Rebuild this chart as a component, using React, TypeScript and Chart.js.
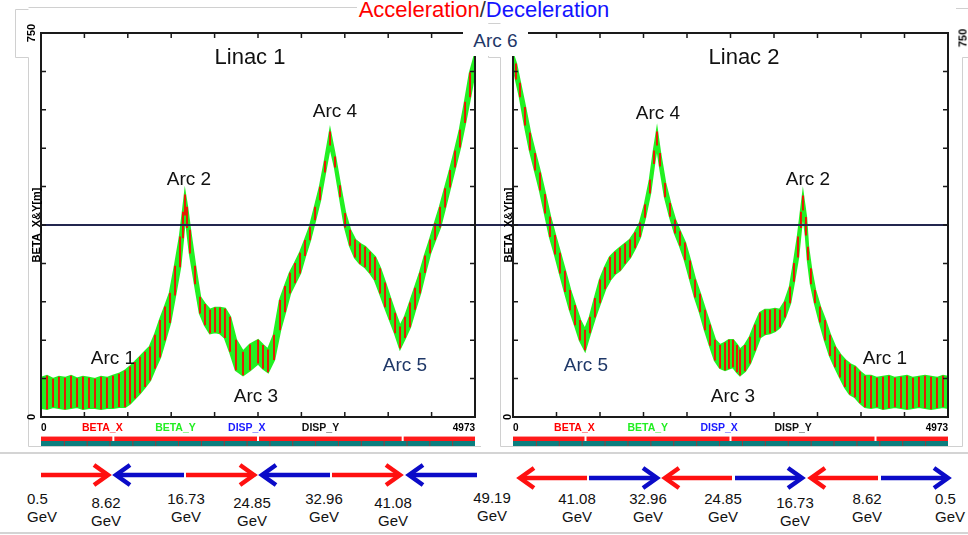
import React, { useEffect, useRef } from 'react';
import { Chart, registerables } from 'chart.js';

Chart.register(...registerables);

const FONT = '"Liberation Sans", Arial, Helvetica, sans-serif';

// ---------------- data ----------------
const X_MAX = 4973;
const Y_MAX = 750;
const X_TICK_COUNT = 10;
const Y_TICK_STEP = 75;
const REF_LEVEL = [375];
const Y_TITLE = 'BETA_X&Y[m]';
const LEGEND_ITEMS = ['BETA_X', 'BETA_Y', 'DISP_X', 'DISP_Y'];

// Linac 1 pass: position s and upper / lower envelope of the beta oscillation
const L1_S = [0, 69, 138, 206, 275, 344, 413, 481, 550, 619, 688, 756, 825, 894, 963, 1020, 1077, 1134, 1192, 1249, 1306, 1364, 1421, 1478, 1536, 1593, 1627, 1650, 1673, 1707, 1765, 1822, 1879, 1937, 1994, 2051, 2108, 2166, 2234, 2315, 2395, 2487, 2544, 2601, 2670, 2739, 2796, 2853, 2911, 2968, 3025, 3082, 3140, 3197, 3254, 3312, 3369, 3426, 3484, 3541, 3598, 3655, 3713, 3770, 3827, 3885, 3942, 3999, 4057, 4114, 4171, 4228, 4286, 4343, 4400, 4458, 4515, 4572, 4630, 4687, 4744, 4801, 4859, 4916, 4973];
const L1_HI = [76, 80, 74, 78, 76, 80, 75, 78, 76, 74, 78, 76, 80, 84, 90, 98, 107, 117, 127, 137, 160, 189, 215, 242, 295, 352, 400, 434, 410, 365, 295, 234, 220, 209, 213, 213, 211, 195, 150, 127, 141, 150, 140, 131, 160, 228, 255, 281, 300, 320, 345, 371, 410, 449, 500, 557, 508, 452, 398, 365, 346, 338, 332, 322, 312, 290, 262, 232, 203, 176, 195, 223, 252, 281, 315, 346, 378, 410, 446, 482, 520, 561, 615, 672, 707];
const L1_LO = [18, 16, 20, 18, 16, 18, 20, 16, 18, 18, 16, 18, 18, 20, 20, 27, 37, 47, 59, 72, 95, 117, 150, 184, 238, 293, 350, 394, 370, 320, 260, 203, 180, 164, 166, 164, 155, 128, 92, 82, 92, 105, 95, 88, 112, 170, 205, 242, 262, 281, 315, 346, 385, 424, 478, 531, 488, 430, 371, 335, 312, 300, 293, 282, 268, 242, 215, 190, 164, 135, 155, 176, 210, 242, 282, 320, 346, 371, 410, 449, 488, 527, 575, 625, 678];

// Linac 2 pass
const L2_S = [0, 34, 80, 137, 194, 252, 309, 366, 423, 480, 537, 594, 652, 709, 766, 823, 880, 937, 995, 1052, 1109, 1166, 1223, 1281, 1338, 1395, 1452, 1509, 1566, 1612, 1646, 1681, 1738, 1795, 1852, 1909, 1966, 2024, 2081, 2138, 2195, 2252, 2309, 2367, 2424, 2469, 2515, 2561, 2595, 2652, 2709, 2766, 2824, 2881, 2938, 2995, 3052, 3109, 3167, 3212, 3258, 3292, 3315, 3349, 3372, 3406, 3452, 3509, 3567, 3624, 3681, 3738, 3795, 3852, 3910, 3967, 4024, 4093, 4161, 4230, 4298, 4367, 4436, 4504, 4573, 4641, 4710, 4779, 4847, 4916, 4973];
const L2_HI = [707, 690, 652, 605, 555, 515, 477, 435, 391, 355, 320, 285, 248, 218, 189, 170, 195, 232, 268, 292, 312, 322, 330, 338, 346, 360, 379, 415, 463, 520, 557, 515, 457, 418, 385, 362, 340, 305, 268, 240, 209, 180, 150, 140, 145, 150, 150, 140, 131, 140, 156, 180, 203, 209, 209, 211, 209, 225, 254, 300, 352, 400, 432, 390, 332, 290, 248, 215, 189, 160, 137, 122, 111, 103, 98, 88, 80, 80, 76, 78, 80, 76, 78, 80, 76, 78, 80, 78, 76, 80, 78];
const L2_LO = [688, 660, 625, 570, 521, 482, 443, 398, 352, 318, 281, 245, 209, 180, 150, 131, 164, 195, 223, 250, 268, 280, 287, 300, 312, 330, 352, 390, 437, 495, 531, 490, 430, 392, 359, 335, 307, 270, 234, 205, 170, 140, 111, 96, 92, 95, 98, 88, 82, 90, 105, 130, 156, 162, 164, 168, 176, 195, 223, 265, 312, 370, 404, 355, 307, 260, 223, 185, 150, 120, 98, 78, 59, 45, 39, 28, 20, 18, 20, 16, 18, 20, 18, 16, 18, 20, 18, 16, 18, 20, 18];

// energies under the panels
const TOP_ROW_E = ['0.5', '8.62', '16.73', '24.85', '32.96', '41.08', '49.19'];
const BOTTOM_ROW_E = ['41.08', '32.96', '24.85', '16.73', '8.62', '0.5'];

// ---------------- styles / layout ----------------
const RED = '#ff0000';
const GREEN = '#22f022';
const NAVY = '#23264f';
const ARC_NAVY = '#1f3868';
const AXIS = '#1a1a1a';
const LEGEND_COLORS = ['#ff0000', '#22ee22', '#1a1aff', '#111111'];
const LEGEND_FRAC = [0.0945, 0.263, 0.431, 0.601];

const X_TICKS = Array.from({ length: X_TICK_COUNT + 1 }, (_, i) => (X_MAX * i) / X_TICK_COUNT);
const Y_TICKS = Array.from({ length: Y_MAX / Y_TICK_STEP + 1 }, (_, i) => i * Y_TICK_STEP);

const decorPlugin = {
  id: 'panelDecor',
  afterDraw(chart: any) {
    const { ctx, chartArea: a, scales } = chart;
    const xs = scales.x;
    const ys = scales.y;
    const w = a.right - a.left;
    ctx.save();
    ctx.strokeStyle = AXIS;
    ctx.lineWidth = 1.5;
    ctx.beginPath();
    xs.ticks.forEach((t: any) => {
      const p = xs.getPixelForValue(t.value);
      ctx.moveTo(p, a.top);
      ctx.lineTo(p, a.top + 5);
      ctx.moveTo(p, a.bottom);
      ctx.lineTo(p, a.bottom - 5);
    });
    ys.ticks.forEach((t: any) => {
      const p = ys.getPixelForValue(t.value);
      ctx.moveTo(a.left, p);
      ctx.lineTo(a.left + 5, p);
      ctx.moveTo(a.right, p);
      ctx.lineTo(a.right - 5, p);
    });
    ctx.stroke();
    ctx.lineWidth = 2;
    ctx.strokeRect(a.left, a.top, w, a.bottom - a.top);
    ctx.save();
    ctx.translate(a.left - 4, (a.top + a.bottom) / 2);
    ctx.rotate(-Math.PI / 2);
    ctx.font = `bold 11px ${FONT}`;
    ctx.fillStyle = '#000';
    ctx.textAlign = 'center';
    ctx.textBaseline = 'middle';
    ctx.fillText(Y_TITLE, 0, 0);
    ctx.restore();
    ctx.font = `bold 10.5px ${FONT}`;
    ctx.textAlign = 'left';
    ctx.textBaseline = 'middle';
    LEGEND_ITEMS.forEach((t, i) => {
      ctx.fillStyle = LEGEND_COLORS[i];
      ctx.fillText(t, a.left + w * LEGEND_FRAC[i], a.bottom + 11);
    });
    const yr = a.bottom + 19;
    ctx.fillStyle = '#ff1a1a';
    ctx.fillRect(a.left, yr, w, 5);
    ctx.fillStyle = '#ff9a9a';
    ctx.fillRect(a.left, yr, w, 1);
    ctx.fillStyle = '#ffffff';
    [1, 3, 5].forEach((k) => ctx.fillRect(a.left + (w * k) / 6 - 1, yr, 2, 5));
    ctx.fillStyle = '#0b7e7e';
    ctx.fillRect(a.left, yr + 5, w, 5);
    ctx.fillStyle = '#8a4040';
    for (let k = 1; k < 19; k++) ctx.fillRect(a.left + (w * k) / 19, yr + 5, 1, 5);
    ctx.restore();
  },
};

function buildConfig(s: number[], hi: number[], lo: number[], yWidth: number, rightPad: number, yTickPad: number): any {
  const upper = s.map((x, i) => ({ x, y: hi[i] }));
  const lower = s.map((x, i) => ({ x, y: lo[i] }));
  const stripes = s.map((x, i) => ({ x, y: [lo[i], hi[i]] }));
  const ref = [
    { x: 0, y: REF_LEVEL[0] },
    { x: X_MAX, y: REF_LEVEL[0] },
  ];
  return {
    type: 'bar',
    data: {
      datasets: [
        { type: 'line', label: 'BETA_Y', data: upper, borderColor: GREEN, backgroundColor: GREEN, borderWidth: 2.5, pointRadius: 0, fill: '+1', order: 3 },
        { type: 'line', label: 'BETA_Y low', data: lower, borderColor: GREEN, backgroundColor: GREEN, borderWidth: 2.5, pointRadius: 0, fill: false, order: 3 },
        { type: 'bar', label: 'BETA_X', data: stripes, backgroundColor: RED, barThickness: 1.1, order: 2 },
        { type: 'line', label: 'ref', data: ref, borderColor: NAVY, borderWidth: 2, pointRadius: 0, fill: false, order: 1 },
      ],
    },
    options: {
      responsive: false,
      animation: false,
      events: [],
      layout: { padding: { left: 0, top: 33, right: rightPad, bottom: 0 } },
      plugins: { legend: { display: false }, tooltip: { enabled: false }, title: { display: false } },
      scales: {
        x: {
          type: 'linear',
          min: 0,
          max: X_MAX,
          offset: false,
          grid: { display: false, drawTicks: false },
          border: { display: false },
          afterBuildTicks: (sc: any) => {
            sc.ticks = X_TICKS.map((v) => ({ value: v }));
          },
          afterFit: (sc: any) => {
            sc.height = 33;
          },
          ticks: {
            autoSkip: false,
            minRotation: 0,
            maxRotation: 0,
            align: 'inner',
            padding: 5,
            color: '#000',
            font: { family: FONT, size: 10, weight: 'bold' },
            callback: (v: number) => (v === 0 || v === X_MAX ? String(v) : ''),
          },
        },
        y: {
          type: 'linear',
          min: 0,
          max: Y_MAX,
          grid: { display: false, drawTicks: false },
          border: { display: false },
          afterBuildTicks: (sc: any) => {
            sc.ticks = Y_TICKS.map((v) => ({ value: v }));
          },
          afterFit: (sc: any) => {
            sc.width = yWidth;
          },
          ticks: {
            autoSkip: false,
            minRotation: 90,
            maxRotation: 90,
            crossAlign: 'center',
            padding: yTickPad,
            color: '#000',
            font: { family: FONT, size: 11, weight: 'bold' },
            callback: (v: number) => (v === 0 || v === Y_MAX ? String(v) : ''),
          },
        },
      },
    },
    plugins: [decorPlugin],
  };
}

function Panel(props: { left: number; s: number[]; hi: number[]; lo: number[]; yWidth: number; rightPad: number; yTickPad: number }) {
  const ref = useRef<HTMLCanvasElement>(null);
  useEffect(() => {
    const chart = new Chart(ref.current as HTMLCanvasElement, buildConfig(props.s, props.hi, props.lo, props.yWidth, props.rightPad, props.yTickPad));
    return () => chart.destroy();
  }, []);
  return (
    <canvas
      ref={ref}
      width={484}
      height={450}
      style={{ position: 'absolute', left: props.left, top: 0, width: 484, height: 450, zIndex: 1 }}
    />
  );
}

const ANNOTATIONS = [
  { text: 'Linac 1', x: 250, y: 57, size: 22, color: '#111' },
  { text: 'Linac 2', x: 744, y: 57, size: 22, color: '#111' },
  { text: 'Arc 1', x: 113, y: 357, size: 19, color: '#111' },
  { text: 'Arc 2', x: 189, y: 178, size: 19, color: '#111' },
  { text: 'Arc 3', x: 256, y: 395, size: 19, color: '#111' },
  { text: 'Arc 4', x: 335, y: 110, size: 19, color: '#111' },
  { text: 'Arc 5', x: 405, y: 364, size: 19, color: ARC_NAVY },
  { text: 'Arc 4', x: 658, y: 112, size: 19, color: '#111' },
  { text: 'Arc 5', x: 586, y: 364, size: 19, color: ARC_NAVY },
  { text: 'Arc 3', x: 733, y: 395, size: 19, color: '#111' },
  { text: 'Arc 2', x: 808, y: 178, size: 19, color: '#111' },
  { text: 'Arc 1', x: 885, y: 357, size: 19, color: '#111' },
];

const TOP_ROW_POS = [
  { x: 27, y: 499, left: true },
  { x: 106, y: 503 },
  { x: 186, y: 499 },
  { x: 252, y: 503 },
  { x: 324, y: 499 },
  { x: 393, y: 503 },
  { x: 492, y: 498 },
];
const BOTTOM_ROW_POS = [
  { x: 577, y: 499 },
  { x: 648, y: 499 },
  { x: 723, y: 499 },
  { x: 795, y: 503 },
  { x: 867, y: 499 },
  { x: 935, y: 499, left: true },
];

const ARROWS = [
  { tail: 41, tip: 111, y: 475, c: 'r' },
  { tail: 184, tip: 113, y: 475, c: 'b' },
  { tail: 186, tip: 257, y: 475, c: 'r' },
  { tail: 330, tip: 259, y: 475, c: 'b' },
  { tail: 332, tip: 403, y: 475, c: 'r' },
  { tail: 477, tip: 406, y: 475, c: 'b' },
  { tail: 587, tip: 517, y: 478, c: 'r' },
  { tail: 589, tip: 660, y: 478, c: 'b' },
  { tail: 732, tip: 662, y: 478, c: 'r' },
  { tail: 735, tip: 805, y: 478, c: 'b' },
  { tail: 878, tip: 808, y: 478, c: 'r' },
  { tail: 881, tip: 951, y: 478, c: 'b' },
];

function EnergyLabel({ e, x, y, left }: { e: string; x: number; y: number; left?: boolean }) {
  return (
    <div
      style={{
        position: 'absolute',
        left: x,
        top: y - 9,
        transform: left ? 'none' : 'translateX(-50%)',
        fontSize: 15,
        lineHeight: '18px',
        textAlign: left ? 'left' : 'center',
        color: '#111',
        whiteSpace: 'nowrap',
        zIndex: 2,
      }}
    >
      {e}
      <br />
      GeV
    </div>
  );
}

export default function App() {
  useEffect(() => {
    document.body.style.margin = '0';
  }, []);
  return (
    <div
      style={{
        position: 'fixed',
        left: 0,
        top: 0,
        width: 968,
        height: 535,
        background: '#fff',
        overflow: 'hidden',
        fontFamily: FONT,
      }}
    >
      <svg width={968} height={535} style={{ position: 'absolute', left: 0, top: 0, zIndex: 0 }}>
        <g stroke="#d0d0d0" strokeWidth={1} fill="none">
          <path d="M470 7.5 H28.5" />
          <path d="M28.5 9.5 H15.5 V57.5 H28.5 V446.5 H481" />
          <path d="M962.5 446.5 H500.5 V57.5 H488.5 V23.5 H500.5" />
          <path d="M962.5 446.5 V57.5 H968" />
          <path d="M956 8.5 H968" />
        </g>
        <g stroke="#c6c6c6" strokeWidth={1.5}>
          <line x1={0} x2={968} y1={453} y2={453} />
          <line x1={0} x2={968} y1={533} y2={533} />
        </g>
        <line x1={470} x2={518} y1={225} y2={225} stroke={NAVY} strokeWidth={2} />
        {ARROWS.map((a, i) => {
          const d = a.tip > a.tail ? 1 : -1;
          const col = a.c === 'r' ? '#ff1010' : '#0b0bc8';
          return (
            <g key={i} stroke={col} strokeWidth={4.5} fill="none" strokeLinejoin="miter">
              <line x1={a.tail} x2={a.tip - d * 3} y1={a.y} y2={a.y} />
              <path d={`M${a.tip - d * 17} ${a.y - 10} L${a.tip - d * 3} ${a.y} L${a.tip - d * 17} ${a.y + 10}`} />
            </g>
          );
        })}
      </svg>

      <Panel left={0} s={L1_S} hi={L1_HI} lo={L1_LO} yWidth={41} rightPad={9} yTickPad={0} />
      <Panel left={484} s={L2_S} hi={L2_HI} lo={L2_LO} yWidth={29} rightPad={20} yTickPad={-4} />

      <div style={{ position: 'absolute', left: 0, top: -1, width: 968, textAlign: 'center', zIndex: 2 }}>
        <span style={{ background: '#fff', fontSize: 22, lineHeight: '22px', padding: '0 2px' }}>
          <span style={{ color: '#ff0000' }}>Acceleration</span>
          <span style={{ color: '#333' }}>/</span>
          <span style={{ color: '#1414ff' }}>Deceleration</span>
        </span>
      </div>

      {ANNOTATIONS.map((a, i) => (
        <div
          key={i}
          style={{
            position: 'absolute',
            left: a.x,
            top: a.y,
            transform: 'translate(-50%, -50%)',
            fontSize: a.size,
            lineHeight: 1,
            color: a.color,
            whiteSpace: 'nowrap',
            zIndex: 2,
          }}
        >
          {a.text}
        </div>
      ))}

      <div
        style={{
          position: 'absolute',
          left: 463,
          top: 24,
          width: 65,
          height: 32,
          background: '#fff',
          display: 'flex',
          alignItems: 'center',
          justifyContent: 'center',
          fontSize: 19,
          lineHeight: 1,
          color: ARC_NAVY,
          zIndex: 3,
        }}
      >
        Arc 6
      </div>

      <div
        style={{
          position: 'absolute',
          left: 963,
          top: 38,
          transform: 'translate(-50%, -50%) rotate(-90deg)',
          fontSize: 11,
          fontWeight: 'bold',
          lineHeight: 1,
          color: '#000',
          zIndex: 2,
        }}
      >
        750
      </div>

      {TOP_ROW_E.map((e, i) => (
        <EnergyLabel key={'t' + i} e={e} x={TOP_ROW_POS[i].x} y={TOP_ROW_POS[i].y} left={TOP_ROW_POS[i].left} />
      ))}
      {BOTTOM_ROW_E.map((e, i) => (
        <EnergyLabel key={'b' + i} e={e} x={BOTTOM_ROW_POS[i].x} y={BOTTOM_ROW_POS[i].y} left={BOTTOM_ROW_POS[i].left} />
      ))}
    </div>
  );
}
